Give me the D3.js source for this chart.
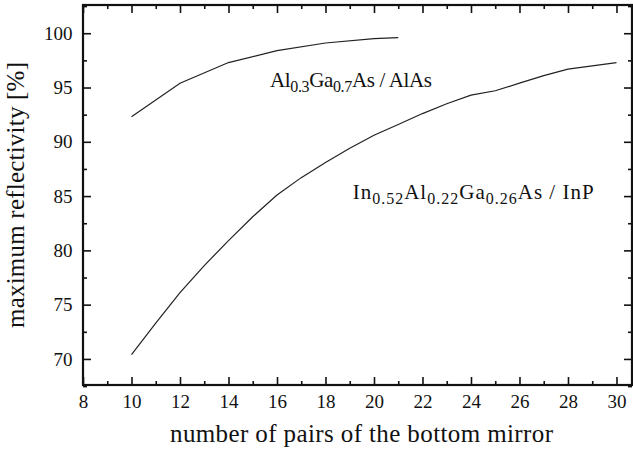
<!DOCTYPE html>
<html>
<head>
<meta charset="utf-8">
<script src="https://cdn.jsdelivr.net/npm/d3@7"></script>
<style>
  body { margin: 0; background: #fff; }
  svg text { font-family: "Liberation Serif", "Times New Roman", serif; fill: #111; }
</style>
</head>
<body>
<div id="chart"></div>
<script>
// pairs of the bottom mirror
const pairsAlGaAs = [10, 12, 14, 16, 18, 20, 21];
const reflAlGaAs  = [92.3, 95.4, 97.3, 98.4, 99.1, 99.5, 99.6];

const pairsInAlGaAs = [10, 11, 12, 13, 14, 15, 16, 17, 18, 19, 20, 21, 22, 23, 24, 25, 26, 27, 28, 29, 30];
const reflInAlGaAs  = [70.4, 73.3, 76.1, 78.6, 80.9, 83.1, 85.1, 86.7, 88.1, 89.4, 90.6, 91.6, 92.6, 93.5, 94.3, 94.7, 95.4, 96.1, 96.7, 97.0, 97.3];

const xMajorTicks = [8, 10, 12, 14, 16, 18, 20, 22, 24, 26, 28, 30];
const xMinorTicks = [9, 11, 13, 15, 17, 19, 21, 23, 25, 27, 29];
const yMajorTicks = [70, 75, 80, 85, 90, 95, 100];
const yMinorTicks = [67.5, 72.5, 77.5, 82.5, 87.5, 92.5, 97.5, 102.5];

const xTitle = 'number of pairs of the bottom mirror';
const yTitle = 'maximum reflectivity [%]';

// Set up the svg
const W = 633, H = 450;
const svg = d3.select('#chart')
              .append('svg')
              .attr('width', W)
              .attr('height', H);

// Scales
const x = d3.scaleLinear()
            .domain([8, 30.64])
            .range([83, 632]);
const y = d3.scaleLinear()
            .domain([67.6, 102.6])
            .range([385, 5]);

const plotLeft = x.range()[0], plotRight = x.range()[1];
const plotBottom = y.range()[0], plotTop = y.range()[1];

// Axes, ticks pointing inward
function styleAxis(g) {
    g.select('.domain').remove();
    g.selectAll('.tick line').attr('stroke', '#111').attr('stroke-width', 1.6);
    g.selectAll('.tick text').style('font-size', '19px');
}

svg.append('g')
   .attr('transform', `translate(0, ${plotBottom})`)
   .call(d3.axisBottom(x).tickValues(xMajorTicks).tickSize(-8).tickPadding(9.5).tickFormat(d3.format('d')))
   .call(styleAxis);
svg.append('g')
   .attr('transform', `translate(0, ${plotBottom})`)
   .call(d3.axisBottom(x).tickValues(xMinorTicks).tickSize(-4).tickFormat(''))
   .call(styleAxis);
svg.append('g')
   .attr('transform', `translate(0, ${plotTop})`)
   .call(d3.axisTop(x).tickValues(xMajorTicks).tickSize(-8).tickFormat(''))
   .call(styleAxis);
svg.append('g')
   .attr('transform', `translate(0, ${plotTop})`)
   .call(d3.axisTop(x).tickValues(xMinorTicks).tickSize(-4).tickFormat(''))
   .call(styleAxis);

svg.append('g')
   .attr('transform', `translate(${plotLeft}, 0)`)
   .call(d3.axisLeft(y).tickValues(yMajorTicks).tickSize(-8).tickPadding(10.5).tickFormat(d3.format('d')))
   .call(styleAxis);
svg.append('g')
   .attr('transform', `translate(${plotLeft}, 0)`)
   .call(d3.axisLeft(y).tickValues(yMinorTicks).tickSize(-4).tickFormat(''))
   .call(styleAxis);
svg.append('g')
   .attr('transform', `translate(${plotRight}, 0)`)
   .call(d3.axisRight(y).tickValues(yMajorTicks).tickSize(-8).tickFormat(''))
   .call(styleAxis);
svg.append('g')
   .attr('transform', `translate(${plotRight}, 0)`)
   .call(d3.axisRight(y).tickValues(yMinorTicks).tickSize(-4).tickFormat(''))
   .call(styleAxis);

// Frame
svg.append('rect')
   .attr('x', plotLeft)
   .attr('y', plotTop)
   .attr('width', plotRight - plotLeft)
   .attr('height', plotBottom - plotTop)
   .attr('fill', 'none')
   .attr('stroke', '#111')
   .attr('stroke-width', 2.2);

// Curves
const line = d3.line()
    .x(d => x(d[0]))
    .y(d => y(d[1]));

svg.append('path')
   .datum(d3.zip(pairsAlGaAs, reflAlGaAs))
   .attr('fill', 'none')
   .attr('stroke', '#222')
   .attr('stroke-width', 1.2)
   .attr('d', line);

svg.append('path')
   .datum(d3.zip(pairsInAlGaAs, reflInAlGaAs))
   .attr('fill', 'none')
   .attr('stroke', '#222')
   .attr('stroke-width', 1.2)
   .attr('d', line);

// Curve labels with subscripts
function label(px, py, width, parts) {
    const t = svg.append('text')
                 .attr('x', x(px))
                 .attr('y', y(py))
                 .attr('textLength', width)
                 .attr('lengthAdjust', 'spacing')
                 .style('font-size', '21px');
    let shifted = false;
    parts.forEach(p => {
        const sub = p.startsWith('_');
        const s = t.append('tspan').text(sub ? p.slice(1) : p);
        if (sub && !shifted) { s.attr('dy', 5).style('font-size', '16px'); shifted = true; }
        else if (sub) { s.style('font-size', '16px'); }
        else if (shifted) { s.attr('dy', -5); shifted = false; }
    });
}
label(15.71, 95.06, 162, ['Al', '_0.3', 'Ga', '_0.7', 'As / AlAs']);
label(19.12, 84.69, 241, ['In', '_0.52', 'Al', '_0.22', 'Ga', '_0.26', 'As / InP']);

// Axis titles
svg.append('text')
   .attr('x', 361.5)
   .attr('y', 442)
   .attr('text-anchor', 'middle')
   .attr('textLength', 383)
   .attr('lengthAdjust', 'spacing')
   .style('font-size', '25px')
   .text(xTitle);

svg.append('text')
   .attr('transform', 'translate(24, 195) rotate(-90)')
   .attr('text-anchor', 'middle')
   .attr('textLength', 266)
   .attr('lengthAdjust', 'spacing')
   .style('font-size', '25px')
   .text(yTitle);
</script>
</body>
</html>
